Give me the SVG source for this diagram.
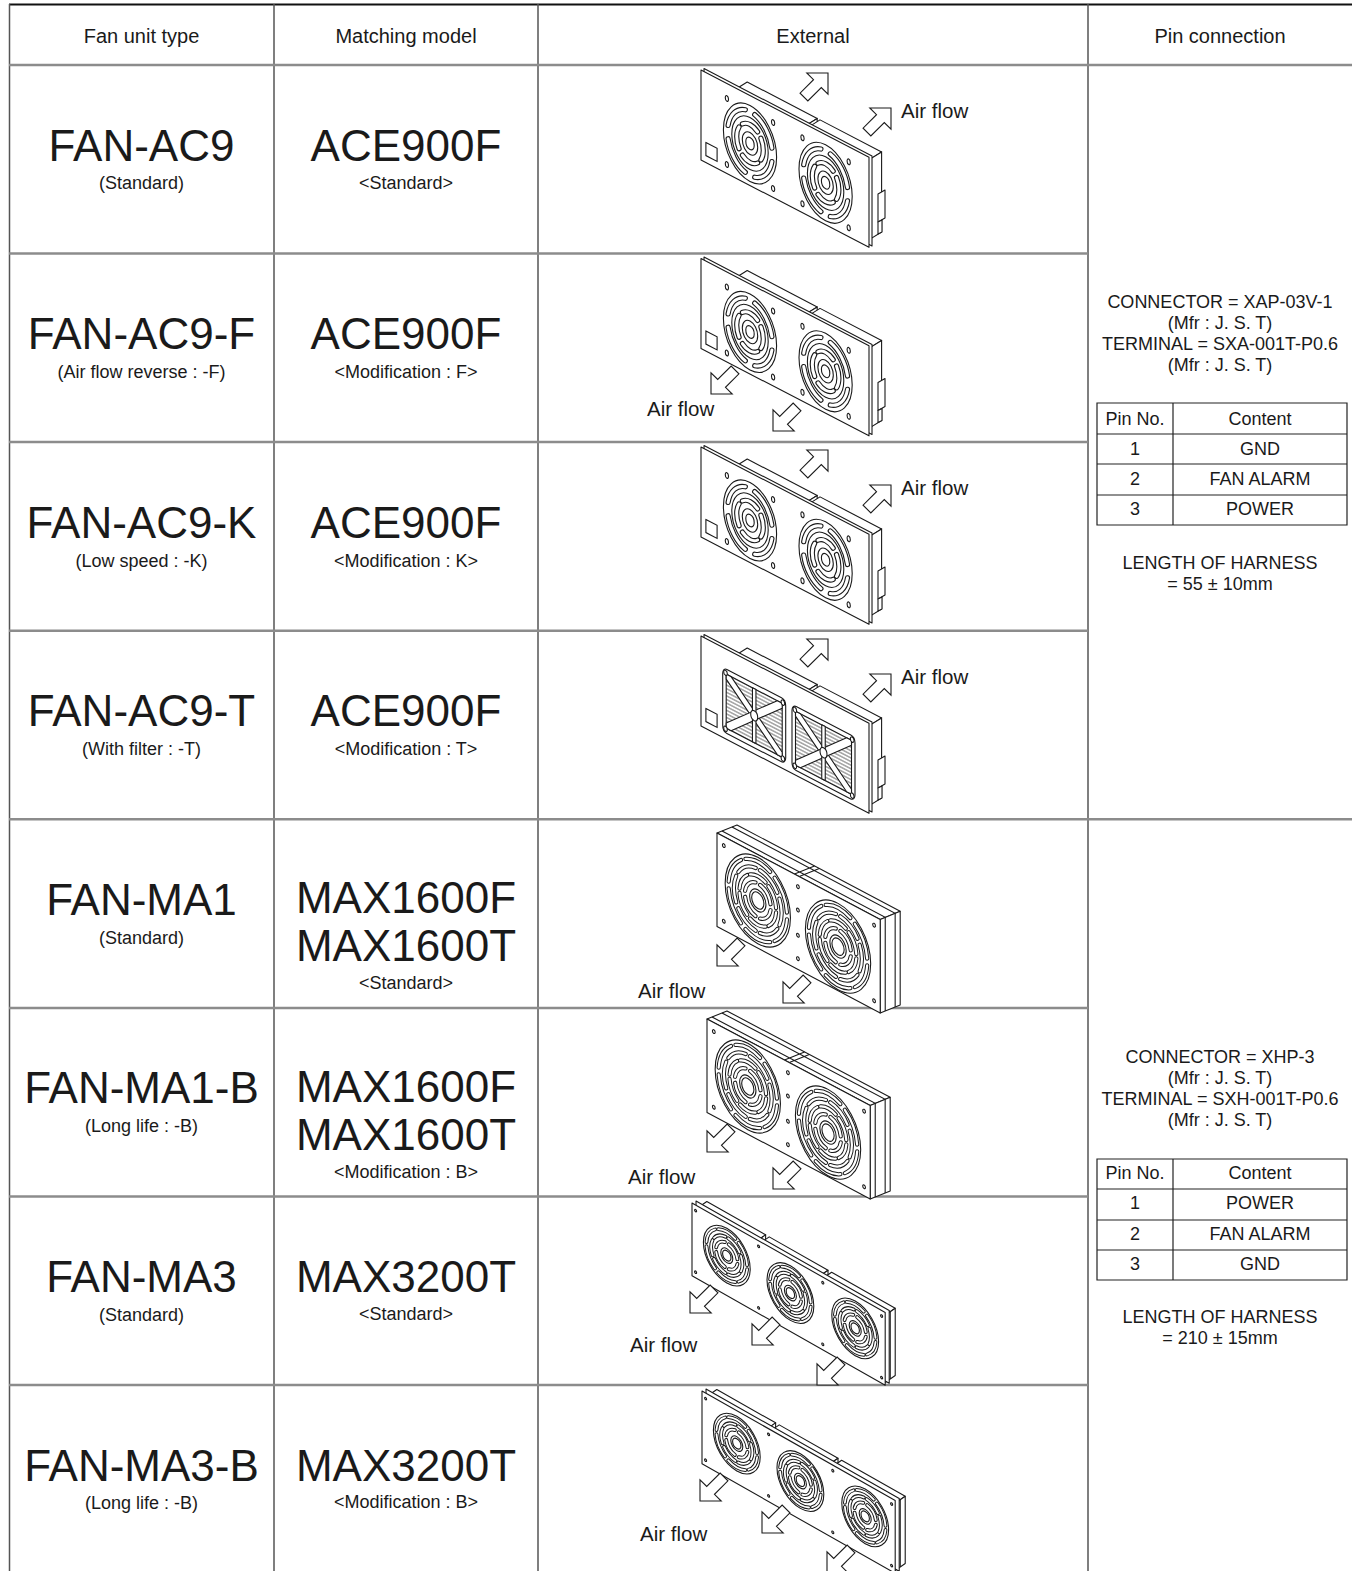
<svg xmlns="http://www.w3.org/2000/svg" width="1353" height="1571" viewBox="0 0 1353 1571">
<defs>
<style>
path,circle,rect,polygon,line,ellipse{vector-effect:non-scaling-stroke}
.t{font-family:"Liberation Sans",Arial,Helvetica,sans-serif;fill:#1a1a1a;text-anchor:middle}
.h{font-size:20px}
.big{font-size:44px}
.sub{font-size:18px}
.pc{font-size:18px}
.af{font-size:20.5px;text-anchor:start}
.hl{stroke:#8c8c8c;stroke-width:2.5;fill:none}
.vl{stroke:#555;stroke-width:1.5;fill:none}
.tb{stroke:#222;stroke-width:1.2;fill:none}
.ln{fill:#fff;stroke:#1a1a1a;stroke-width:1.1;stroke-linejoin:round}
.nf{fill:none;stroke:#1a1a1a;stroke-width:1.1}
.arr{fill:#fff;stroke:#1a1a1a;stroke-width:1.1;stroke-linejoin:miter}
.soA{fill:none;stroke:#1a1a1a;stroke-width:5.2;stroke-linecap:round}
.siA{fill:none;stroke:#fff;stroke-width:3;stroke-linecap:round}
.soB{fill:none;stroke:#1a1a1a;stroke-width:4.2;stroke-linecap:round}
.siB{fill:none;stroke:#fff;stroke-width:2.2;stroke-linecap:round}
.soC{fill:none;stroke:#1a1a1a;stroke-width:3.8;stroke-linecap:round}
.siC{fill:none;stroke:#fff;stroke-width:1.8;stroke-linecap:round}
</style>
<pattern id="hatch" patternUnits="userSpaceOnUse" width="8" height="3.6"><path d="M0,1.8H8" stroke="#222" stroke-width="0.8" style="vector-effect:none"/></pattern>
<polygon id="arr" class="arr" points="0,0 -15,-15 -15,-5.5 -34,-5.5 -34,5.5 -15,5.5 -15,15"/>

<!-- slot arcs -->
<path id="pA1" d="M31.3,6.65A32,32 0 0 1 6.65,31.3"/>
<path id="pA2" d="M15.56,-10.9A19,19 0 0 1 15.56,10.9"/>
<path id="pB1" d="M42.84,3.75A43,43 0 0 1 24.66,35.22"/>
<path id="pB2" d="M28.67,20.08A35,35 0 0 1 3.05,34.87"/>
<path id="pB3" d="M26.9,2.35A27,27 0 0 1 15.49,22.12"/>
<path id="pB4" d="M18.71,3.3A19,19 0 0 1 3.3,18.71"/>
<path id="pC1" d="M33.87,2.96A34,34 0 0 1 19.5,27.85"/>
<path id="pC2" d="M21.3,14.91A26,26 0 0 1 2.27,25.9"/>
<path id="pC3" d="M17.73,3.13A18,18 0 0 1 3.13,17.73"/>
<g id="sA1"><use href="#pA1" class="soA"/><use href="#pA1" class="siA"/></g>
<g id="sA2"><use href="#pA2" class="soA"/><use href="#pA2" class="siA"/></g>
<g id="sB1"><use href="#pB1" class="soB"/><use href="#pB1" class="siB"/></g>
<g id="sB2"><use href="#pB2" class="soB"/><use href="#pB2" class="siB"/></g>
<g id="sB3"><use href="#pB3" class="soB"/><use href="#pB3" class="siB"/></g>
<g id="sB4"><use href="#pB4" class="soB"/><use href="#pB4" class="siB"/></g>
<g id="sC1"><use href="#pC1" class="soC"/><use href="#pC1" class="siC"/></g>
<g id="sC2"><use href="#pC2" class="soC"/><use href="#pC2" class="siC"/></g>
<g id="sC3"><use href="#pC3" class="soC"/><use href="#pC3" class="siC"/></g>

<!-- guard A (AC9) -->
<g id="gA">
<circle class="ln" r="38"/>
<use href="#sA1"/><use href="#sA1" transform="rotate(90)"/><use href="#sA1" transform="rotate(180)"/><use href="#sA1" transform="rotate(270)"/>
<circle class="nf" r="26"/>
<use href="#sA2"/><use href="#sA2" transform="rotate(90)"/><use href="#sA2" transform="rotate(180)"/><use href="#sA2" transform="rotate(270)"/>
<circle class="nf" r="11"/><circle class="nf" r="6"/>
</g>
<!-- guard B (MA1) -->
<g id="gB">
<circle class="ln" r="48"/>
<use href="#sB1"/><use href="#sB1" transform="rotate(60)"/><use href="#sB1" transform="rotate(120)"/><use href="#sB1" transform="rotate(180)"/><use href="#sB1" transform="rotate(240)"/><use href="#sB1" transform="rotate(300)"/>
<use href="#sB2"/><use href="#sB2" transform="rotate(60)"/><use href="#sB2" transform="rotate(120)"/><use href="#sB2" transform="rotate(180)"/><use href="#sB2" transform="rotate(240)"/><use href="#sB2" transform="rotate(300)"/>
<use href="#sB3"/><use href="#sB3" transform="rotate(60)"/><use href="#sB3" transform="rotate(120)"/><use href="#sB3" transform="rotate(180)"/><use href="#sB3" transform="rotate(240)"/><use href="#sB3" transform="rotate(300)"/>
<use href="#sB4"/><use href="#sB4" transform="rotate(90)"/><use href="#sB4" transform="rotate(180)"/><use href="#sB4" transform="rotate(270)"/>
<circle class="nf" r="12"/><circle class="nf" r="9"/>
</g>
<!-- guard C (MA3) -->
<g id="gC">
<circle class="ln" r="39"/>
<use href="#sC1"/><use href="#sC1" transform="rotate(60)"/><use href="#sC1" transform="rotate(120)"/><use href="#sC1" transform="rotate(180)"/><use href="#sC1" transform="rotate(240)"/><use href="#sC1" transform="rotate(300)"/>
<use href="#sC2"/><use href="#sC2" transform="rotate(60)"/><use href="#sC2" transform="rotate(120)"/><use href="#sC2" transform="rotate(180)"/><use href="#sC2" transform="rotate(240)"/><use href="#sC2" transform="rotate(300)"/>
<use href="#sC3"/><use href="#sC3" transform="rotate(90)"/><use href="#sC3" transform="rotate(180)"/><use href="#sC3" transform="rotate(270)"/>
<circle class="nf" r="10"/><circle class="nf" r="7"/>
</g>
<!-- filter frame -->
<g id="gF">
<rect class="ln" x="-45" y="-32" width="90" height="64" rx="6"/>
<rect x="-40" y="-27" width="80" height="54" fill="url(#hatch)" stroke="#1a1a1a" stroke-width="1.1"/>
<polygon class="ln" points="-40,-27 -33,-27 40,22 40,27 33,27 -40,-22"/>
<polygon class="ln" points="40,-27 33,-27 -40,22 -40,27 -33,27 40,-22"/>
<rect class="ln" x="-2.5" y="-27" width="5" height="54"/>
<circle class="ln" r="5"/>
<circle class="ln" cx="-41" cy="-28" r="2.6"/><circle class="ln" cx="41" cy="-28" r="2.6"/>
<circle class="ln" cx="-41" cy="28" r="2.6"/><circle class="ln" cx="41" cy="28" r="2.6"/>
</g>

<!-- AC9 base body (row-1 coordinates) -->
<g id="aBody">
<g transform="matrix(0.7,0.364,0,1,701,70)">
<polygon class="ln" points="46,4 146,4 166,-12 66,-12"/>
<polygon class="ln" points="146,4 166,-12 166,68 146,84"/>
<polygon class="ln" points="150,4 238,4 258,-12 170,-12"/>
<polygon class="ln" points="238,4 258,-12 258,68 238,84"/>
<rect class="ln" x="4.3" y="-3" width="240" height="90"/>
<rect class="ln" width="240" height="90"/>
<rect class="nf" x="7" y="70" width="16" height="13"/>
</g>
<polygon class="ln" points="878,194 885,190 885,218 878,222"/>
<polygon class="ln" points="878,222 882,220 882,232 878,234"/>
</g>
<g id="aStd">
<use href="#aBody"/>
<g transform="matrix(0.7,0.364,0,1,701,70)">
<use href="#gA" x="70" y="48"/>
<use href="#gA" x="178" y="48"/>
<g class="nf">
<ellipse cx="37" cy="15" rx="2.3" ry="2.8"/><ellipse cx="103" cy="15" rx="2.3" ry="2.8"/>
<ellipse cx="37" cy="81" rx="2.3" ry="2.8"/><ellipse cx="103" cy="81" rx="2.3" ry="2.8"/>
<ellipse cx="145" cy="15" rx="2.3" ry="2.8"/><ellipse cx="211" cy="15" rx="2.3" ry="2.8"/>
<ellipse cx="145" cy="81" rx="2.3" ry="2.8"/><ellipse cx="211" cy="81" rx="2.3" ry="2.8"/>
</g>
</g>
</g>
<g id="aFil">
<use href="#aBody"/>
<g transform="matrix(0.7,0.364,0,1,701,70)">
<use href="#gF" x="76" y="52"/>
<use href="#gF" x="175" y="53"/>
</g>
</g>

<!-- MA1 body (row-5 coordinates) -->
<g id="bStd">
<g transform="matrix(0.68,0.36,0,0.9,717,833)">
<polygon class="ln" points="0,0 240,0 269.4,-20.7 29.4,-20.7"/>
<polygon class="ln" points="240,0 269.4,-20.7 269.4,83.3 240,104"/>
<path class="nf" d="M7.4,-5.2H247.4V98.8M22,-15.5H262V88.5M114,0l29.4,-20.7M121,0l29.4,-20.7"/>
<rect class="ln" width="240" height="104"/>
<use href="#gB" x="60" y="51"/>
<use href="#gB" x="178" y="55"/>
<g class="nf">
<circle cx="10" cy="10" r="2"/><circle cx="10" cy="94" r="2"/>
<circle cx="119" cy="12" r="2"/><circle cx="119" cy="38" r="2"/><circle cx="119" cy="66" r="2"/><circle cx="119" cy="92" r="2"/>
<circle cx="231" cy="10" r="2"/><circle cx="231" cy="94" r="2"/>
</g>
</g>
</g>

<!-- MA3 body (row-7 coordinates) -->
<g id="cStd">
<g transform="matrix(0.6,0.34,0,0.7,692,1203)">
<polygon class="ln" points="8,4 106,4 122.7,-14.1 24.7,-14.1"/>
<polygon class="ln" points="106,4 122.7,-14.1 122.7,81.9 106,100"/>
<path class="nf" d="M16.4,-5H114.4V91"/>
<polygon class="ln" points="112,4 210,4 226.7,-14.1 128.7,-14.1"/>
<polygon class="ln" points="210,4 226.7,-14.1 226.7,81.9 210,100"/>
<path class="nf" d="M120.4,-5H218.4V91"/>
<polygon class="ln" points="216,4 322,4 338.7,-14.1 232.7,-14.1"/>
<polygon class="ln" points="322,4 338.7,-14.1 338.7,81.9 322,100"/>
<path class="nf" d="M224.4,-5H330.4V91"/>
<rect class="ln" x="6.7" y="-6.1" width="322" height="104"/>
<rect class="ln" width="322" height="104"/>
<use href="#gC" x="58" y="47"/>
<use href="#gC" x="164" y="49"/>
<use href="#gC" x="272" y="47"/>
<g class="nf">
<circle cx="6" cy="8" r="1.7"/><circle cx="6" cy="96" r="1.7"/>
<circle cx="111" cy="8" r="1.7"/><circle cx="111" cy="96" r="1.7"/>
<circle cx="218" cy="8" r="1.7"/><circle cx="218" cy="96" r="1.7"/>
<circle cx="316" cy="8" r="1.7"/><circle cx="316" cy="96" r="1.7"/>
</g>
</g>
</g>
</defs>

<rect width="1353" height="1571" fill="#fff"/>

<!-- table grid -->
<g id="grid">
<line x1="9" y1="4.5" x2="1352" y2="4.5" stroke="#111" stroke-width="2"/>
<line class="vl" x1="9.5" y1="4" x2="9.5" y2="1571"/>
<line class="vl" x1="274" y1="4" x2="274" y2="1571"/>
<line class="vl" x1="538" y1="4" x2="538" y2="1571"/>
<line class="vl" x1="1088" y1="4" x2="1088" y2="1571"/>
<line class="hl" x1="9" y1="65" x2="1352" y2="65"/>
<line class="hl" x1="9" y1="253.6" x2="1088" y2="253.6"/>
<line class="hl" x1="9" y1="442.1" x2="1088" y2="442.1"/>
<line class="hl" x1="9" y1="630.7" x2="1088" y2="630.7"/>
<line class="hl" x1="9" y1="819.3" x2="1352" y2="819.3"/>
<line class="hl" x1="9" y1="1007.9" x2="1088" y2="1007.9"/>
<line class="hl" x1="9" y1="1196.4" x2="1088" y2="1196.4"/>
<line class="hl" x1="9" y1="1385" x2="1088" y2="1385"/>
</g>

<g id="header" class="t h">
<text x="141.5" y="43">Fan unit type</text>
<text x="406" y="43">Matching model</text>
<text x="813" y="43">External</text>
<text x="1220" y="43">Pin connection</text>
</g>

<!-- fan unit type column -->
<g id="types" class="t">
<g id="type-1"><text class="big" x="141.5" y="161">FAN-AC9</text><text class="sub" x="141.5" y="188.5">(Standard)</text></g>
<g id="type-2"><text class="big" x="141.5" y="349">FAN-AC9-F</text><text class="sub" x="141.5" y="377.5">(Air flow reverse : -F)</text></g>
<g id="type-3"><text class="big" x="141.5" y="538">FAN-AC9-K</text><text class="sub" x="141.5" y="566.5">(Low speed : -K)</text></g>
<g id="type-4"><text class="big" x="141.5" y="726">FAN-AC9-T</text><text class="sub" x="141.5" y="754.5">(With filter : -T)</text></g>
<g id="type-5"><text class="big" x="141.5" y="915">FAN-MA1</text><text class="sub" x="141.5" y="943.5">(Standard)</text></g>
<g id="type-6"><text class="big" x="141.5" y="1103">FAN-MA1-B</text><text class="sub" x="141.5" y="1131.5">(Long life : -B)</text></g>
<g id="type-7"><text class="big" x="141.5" y="1292">FAN-MA3</text><text class="sub" x="141.5" y="1320.5">(Standard)</text></g>
<g id="type-8"><text class="big" x="141.5" y="1481">FAN-MA3-B</text><text class="sub" x="141.5" y="1508.5">(Long life : -B)</text></g>
</g>

<!-- matching model column -->
<g id="models" class="t">
<g id="model-1"><text class="big" x="406" y="161">ACE900F</text><text class="sub" x="406" y="188.5">&lt;Standard&gt;</text></g>
<g id="model-2"><text class="big" x="406" y="349">ACE900F</text><text class="sub" x="406" y="377.5">&lt;Modification : F&gt;</text></g>
<g id="model-3"><text class="big" x="406" y="538">ACE900F</text><text class="sub" x="406" y="566.5">&lt;Modification : K&gt;</text></g>
<g id="model-4"><text class="big" x="406" y="726">ACE900F</text><text class="sub" x="406" y="754.5">&lt;Modification : T&gt;</text></g>
<g id="model-5"><text class="big" x="406" y="913">MAX1600F</text><text class="big" x="406" y="961">MAX1600T</text><text class="sub" x="406" y="989">&lt;Standard&gt;</text></g>
<g id="model-6"><text class="big" x="406" y="1102">MAX1600F</text><text class="big" x="406" y="1150">MAX1600T</text><text class="sub" x="406" y="1177.5">&lt;Modification : B&gt;</text></g>
<g id="model-7"><text class="big" x="406" y="1292">MAX3200T</text><text class="sub" x="406" y="1319.5">&lt;Standard&gt;</text></g>
<g id="model-8"><text class="big" x="406" y="1481">MAX3200T</text><text class="sub" x="406" y="1507.5">&lt;Modification : B&gt;</text></g>
</g>

<!-- external drawings -->
<g id="ext-1"><use href="#aStd"/></g>
<g id="ext-2"><use href="#aStd" transform="translate(0,188.5)"/></g>
<g id="ext-3"><use href="#aStd" transform="translate(0,377)"/></g>
<g id="ext-4"><use href="#aFil" transform="translate(0,566)"/></g>
<g id="ext-5"><use href="#bStd"/></g>
<g id="ext-6"><use href="#bStd" transform="translate(-10,186)"/></g>
<g id="ext-7"><use href="#cStd"/></g>
<g id="ext-8"><use href="#cStd" transform="translate(10,188)"/></g>

<!-- air flow arrows -->
<g id="airflow">
<use href="#arr" transform="translate(828,73) rotate(-45)"/>
<use href="#arr" transform="translate(891,108) rotate(-45)"/>
<use href="#arr" transform="translate(711,394) rotate(135)"/>
<use href="#arr" transform="translate(773,431) rotate(135)"/>
<use href="#arr" transform="translate(828,450) rotate(-45)"/>
<use href="#arr" transform="translate(891,485) rotate(-45)"/>
<use href="#arr" transform="translate(828,639) rotate(-45)"/>
<use href="#arr" transform="translate(891,674) rotate(-45)"/>
<use href="#arr" transform="translate(717,966) rotate(135)"/>
<use href="#arr" transform="translate(783,1003) rotate(135)"/>
<use href="#arr" transform="translate(707,1152) rotate(135)"/>
<use href="#arr" transform="translate(773,1189) rotate(135)"/>
<use href="#arr" transform="translate(690,1313) rotate(135)"/>
<use href="#arr" transform="translate(752,1345) rotate(135)"/>
<use href="#arr" transform="translate(817,1385) rotate(135)"/>
<use href="#arr" transform="translate(700,1501) rotate(135)"/>
<use href="#arr" transform="translate(762,1533) rotate(135)"/>
<use href="#arr" transform="translate(827,1573) rotate(135)"/>
</g>
<g id="airflow-labels" class="t af">
<text x="901" y="118">Air flow</text>
<text x="647" y="416">Air flow</text>
<text x="901" y="495">Air flow</text>
<text x="901" y="684">Air flow</text>
<text x="638" y="998">Air flow</text>
<text x="628" y="1184">Air flow</text>
<text x="630" y="1352">Air flow</text>
<text x="640" y="1541">Air flow</text>
</g>

<!-- pin connection 1 -->
<g id="pin-1" class="t pc">
<text x="1220" y="307.5">CONNECTOR = XAP-03V-1</text>
<text x="1220" y="328.5">(Mfr : J. S. T)</text>
<text x="1220" y="349.5">TERMINAL = SXA-001T-P0.6</text>
<text x="1220" y="370.5">(Mfr : J. S. T)</text>
<g class="tb"><rect x="1097" y="403" width="250" height="122"/><line x1="1097" y1="434" x2="1347" y2="434"/><line x1="1097" y1="464" x2="1347" y2="464"/><line x1="1097" y1="495" x2="1347" y2="495"/><line x1="1173" y1="403" x2="1173" y2="525"/></g>
<text x="1135" y="424.5">Pin No.</text><text x="1260" y="424.5">Content</text>
<text x="1135" y="454.5">1</text><text x="1260" y="454.5">GND</text>
<text x="1135" y="484.5">2</text><text x="1260" y="484.5">FAN ALARM</text>
<text x="1135" y="514.5">3</text><text x="1260" y="514.5">POWER</text>
<text x="1220" y="568.5">LENGTH OF HARNESS</text>
<text x="1220" y="589.5">= 55 ± 10mm</text>
</g>

<!-- pin connection 2 -->
<g id="pin-2" class="t pc">
<text x="1220" y="1062.5">CONNECTOR = XHP-3</text>
<text x="1220" y="1083.5">(Mfr : J. S. T)</text>
<text x="1220" y="1104.5">TERMINAL = SXH-001T-P0.6</text>
<text x="1220" y="1125.5">(Mfr : J. S. T)</text>
<g class="tb"><rect x="1097" y="1159" width="250" height="121"/><line x1="1097" y1="1189" x2="1347" y2="1189"/><line x1="1097" y1="1220" x2="1347" y2="1220"/><line x1="1097" y1="1250" x2="1347" y2="1250"/><line x1="1173" y1="1159" x2="1173" y2="1280"/></g>
<text x="1135" y="1178.5">Pin No.</text><text x="1260" y="1178.5">Content</text>
<text x="1135" y="1208.5">1</text><text x="1260" y="1208.5">POWER</text>
<text x="1135" y="1239.5">2</text><text x="1260" y="1239.5">FAN ALARM</text>
<text x="1135" y="1269.5">3</text><text x="1260" y="1269.5">GND</text>
<text x="1220" y="1322.5">LENGTH OF HARNESS</text>
<text x="1220" y="1343.5">= 210 ± 15mm</text>
</g>
</svg>
